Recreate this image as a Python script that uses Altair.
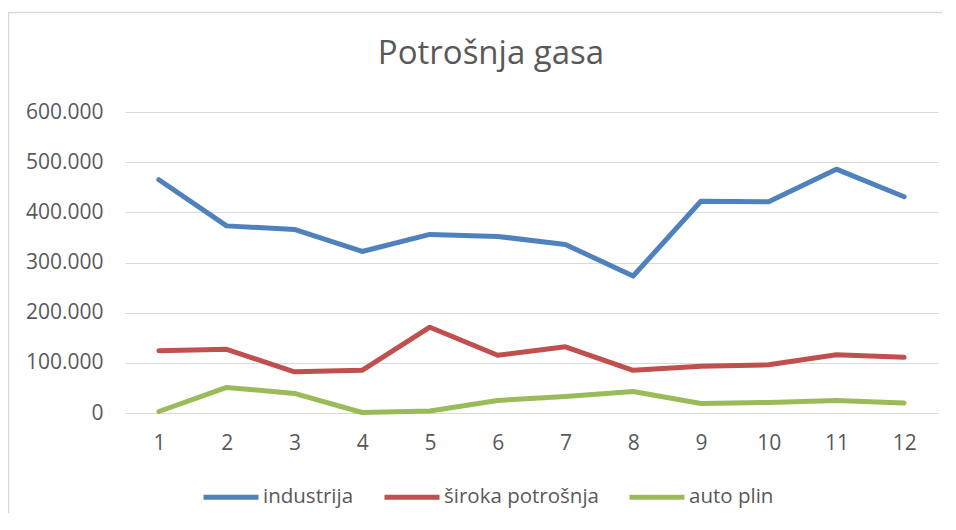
import altair as alt
import pandas as pd

months = list(range(1, 13))
industrija = [465000, 373000, 366000, 322000, 356000, 352000, 336000, 273000, 422000, 421000, 486000, 431000]
siroka = [124000, 127000, 82000, 85000, 171000, 115000, 132000, 85000, 93000, 96000, 116000, 111000]
auto_plin = [3000, 51000, 39000, 1000, 4000, 25000, 33000, 43000, 19000, 21000, 25000, 20000]

series_names = ["industrija", "široka potrošnja", "auto plin"]
series_colors = ["#4F81BD", "#C0504D", "#9BBB59"]
title_text = "Potrošnja gasa"

rows = []
for name, vals in zip(series_names, [industrija, siroka, auto_plin]):
    for m, v in zip(months, vals):
        rows.append({"mjesec": m, "serija": name, "vrijednost": v})
df = pd.DataFrame(rows)

FONT = "Open Sans"
TXT = "#595959"
FS = 21

PL, PT, PR, PB = 117, 104, 4, 100
W, H = 813, 301

lines = alt.Chart(df).mark_line(strokeWidth=5, strokeCap="round", strokeJoin="round").encode(
    x=alt.X("mjesec:O", title=None,
            axis=alt.Axis(labelAngle=0, ticks=False, grid=False, domain=True, domainColor="#d9d9d9",
                          labelFontSize=FS, labelColor=TXT, labelFont=FONT, labelPadding=19)),
    y=alt.Y("vrijednost:Q", title=None,
            scale=alt.Scale(domain=[0, 600000], nice=False),
            axis=alt.Axis(values=[0, 100000, 200000, 300000, 400000, 500000, 600000],
                          labelExpr="replace(format(datum.value, ',d'), ',', '.')",
                          domain=False, ticks=False, grid=True, gridColor="#d9d9d9",
                          labelFontSize=FS, labelColor=TXT, labelFont=FONT, labelPadding=22)),
    color=alt.Color("serija:N", title=None,
                    scale=alt.Scale(domain=series_names, range=series_colors),
                    sort=series_names,
                    legend=alt.Legend(orient="none", direction="horizontal",
                                      legendX=76, legendY=355,
                                      symbolType="stroke", symbolSize=3025,
                                      symbolStrokeWidth=5, labelFontSize=20.5,
                                      labelFont=FONT, labelColor=TXT,
                                      labelOffset=2, columnPadding=20)),
)

one = pd.DataFrame({"t": [title_text]})

title = alt.Chart(one).mark_text(
    font=FONT, fontSize=33, color=TXT, align="center", baseline="alphabetic"
).encode(x=alt.value(366), y=alt.value(-48), text="t:N")

top_line = alt.Chart(one).mark_rule(stroke="#d9d9d9", strokeWidth=1.5).encode(
    x=alt.value(-PL), x2=alt.value(W + PR), y=alt.value(-PT + 4.5)
)
left_line = alt.Chart(one).mark_rule(stroke="#d9d9d9", strokeWidth=1.5).encode(
    x=alt.value(-PL + 0.5), y=alt.value(-PT + 4.5), y2=alt.value(H + PB)
)

chart = alt.layer(top_line, left_line, title, lines).properties(
    width=W, height=H,
    autosize="none",
    background="white",
    padding={"left": PL, "top": PT, "right": PR, "bottom": PB},
).configure_view(stroke=None, strokeWidth=0)

chart.save("out.html", embed_options={"renderer": "svg", "actions": False})
